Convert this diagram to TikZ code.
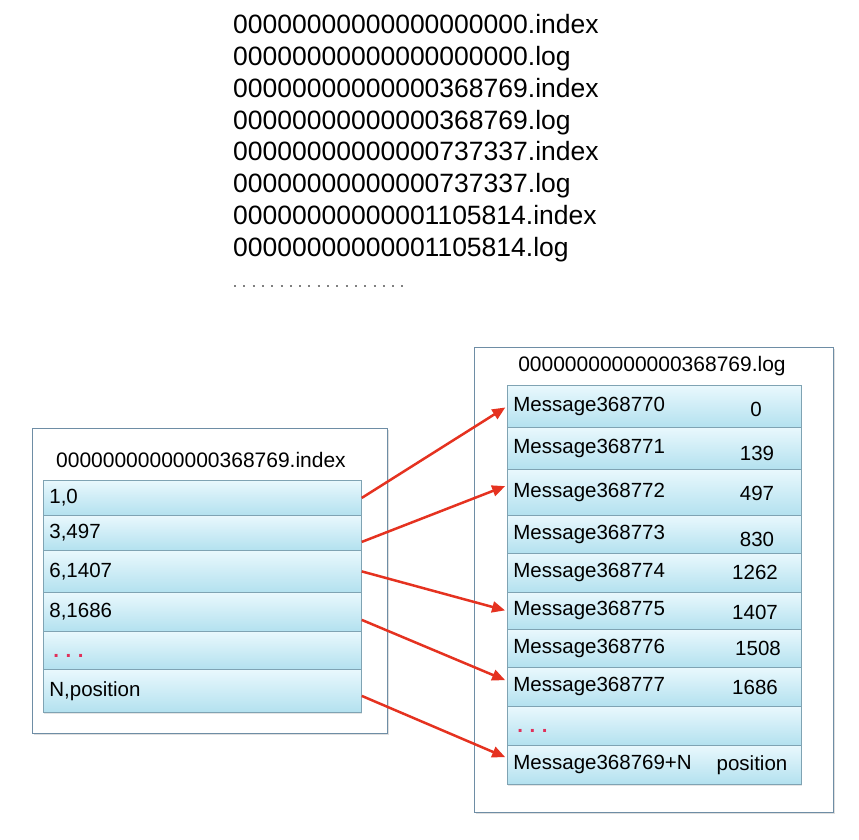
\documentclass[tikz,border=0pt]{standalone}
\usepackage{fontspec}
\setmainfont{Liberation Sans}
\usetikzlibrary{arrows.meta,shadows}

\definecolor{rowtop}{HTML}{E9F8FD}
\definecolor{rowbot}{HTML}{B3E1EF}
\definecolor{rowline}{HTML}{7FA3B3}
\definecolor{boxline}{HTML}{6E8DA5}
\definecolor{arrowred}{HTML}{E53220}
\definecolor{dotred}{HTML}{E0305A}

\newcommand{\moredots}{\vphantom{Mg}\kern4bp\smash{\raisebox{-2bp}{\textcolor{dotred}{\bfseries .\kern6.5bp.\kern6.5bp.}}}}

\begin{document}
\begin{tikzpicture}[x=1bp, y=-1bp,
	filebox/.style={draw=boxline, line width=1bp, fill=white, anchor=north west, inner sep=0pt,
		drop shadow={shadow xshift=1.5bp, shadow yshift=-1.5bp, opacity=0.25}},
	cell/.style={draw=rowline, line width=0.8bp, top color=rowtop, bottom color=rowbot,
		anchor=north west, inner ysep=0pt, inner xsep=6bp, align=left,
		font=\fontsize{20.5bp}{24bp}\selectfont,
		drop shadow={shadow xshift=1bp, shadow yshift=-2bp, opacity=0.2}},
	idxrow/.style={cell, text width=306bp, minimum width=318bp},
	logrow/.style={cell, text width=282bp, minimum width=294bp},
	offs/.style={inner sep=0pt, font=\fontsize{20.5bp}{24bp}\selectfont},
	title/.style={inner sep=0pt, font=\fontsize{21bp}{24bp}\selectfont},
	fname/.style={anchor=base west, inner sep=0pt, font=\fontsize{26.5bp}{30bp}\selectfont},
	link/.style={draw=arrowred, line width=2.5bp, shorten >=2bp, -{Triangle[length=13bp, width=11bp]}}]

	\useasboundingbox (0,0) rectangle (859,840);

	% segment files
	\node[fname] (f1) at (233,33) {00000000000000000000.index};
	\node[fname] (f2) at (233,65) {00000000000000000000.log};
	\node[fname] (f3) at (233,97) {00000000000000368769.index};
	\node[fname] (f4) at (233,129) {00000000000000368769.log};
	\node[fname] (f5) at (233,160) {00000000000000737337.index};
	\node[fname] (f6) at (233,192) {00000000000000737337.log};
	\node[fname] (f7) at (233,224) {00000000000001105814.index};
	\node[fname] (f8) at (233,256) {00000000000001105814.log};
	\draw[gray, line width=2bp, dash pattern=on 2bp off 7.3bp] (234,286) -- (410,286);

	% index file
	\node[filebox, minimum width=355bp, minimum height=305bp] (idxfile) at (32,428) {};
	\node[title] (idxname) at (201,460) {00000000000000368769.index};
	\node[idxrow, minimum height=35bp] (i1) at (43,480) {1,0};
	\node[idxrow, minimum height=35bp] (i2) at (43,515) {3,497};
	\node[idxrow, minimum height=42bp] (i3) at (43,550) {6,1407};
	\node[idxrow, minimum height=39bp] (i4) at (43,592) {8,1686};
	\node[idxrow, minimum height=38bp] (i5) at (43,631) {\moredots};
	\node[idxrow, minimum height=43bp] (i6) at (43,669) {N,position};

	% log file
	\node[filebox, minimum width=359bp, minimum height=465bp] (logfile) at (474,347) {};
	\node[title] (logname) at (652,366) {00000000000000368769.log};
	\node[logrow, minimum height=42bp] (m0) at (507,385) {Message368770};
	\node[logrow, minimum height=42bp] (m1) at (507,427) {Message368771};
	\node[logrow, minimum height=46bp] (m2) at (507,469) {Message368772};
	\node[logrow, minimum height=38bp] (m3) at (507,515) {Message368773};
	\node[logrow, minimum height=39bp] (m4) at (507,553) {Message368774};
	\node[logrow, minimum height=37bp] (m5) at (507,592) {Message368775};
	\node[logrow, minimum height=38bp] (m6) at (507,629) {Message368776};
	\node[logrow, minimum height=39bp] (m7) at (507,667) {Message368777};
	\node[logrow, minimum height=39bp] (m8) at (507,706) {\moredots};
	\node[logrow, minimum height=39bp] (m9) at (507,745) {Message368769+N};

	\node[offs] (o0) at (756,409) {0};
	\node[offs] (o1) at (757,453) {139};
	\node[offs] (o2) at (757,493) {497};
	\node[offs] (o3) at (757,539) {830};
	\node[offs] (o4) at (755,572) {1262};
	\node[offs] (o5) at (755,612) {1407};
	\node[offs] (o6) at (758,648) {1508};
	\node[offs] (o7) at (755,687) {1686};
	\node[offs] (o9) at (752,765) {position};

	% index entries point into the log
	\draw[link] (i1.east) -- (m0.west);
	\draw[link] ([yshift=-9bp]i2.east) -- ([yshift=7bp]m2.west);
	\draw[link] (i3.east) -- (m5.west);
	\draw[link] ([yshift=-8bp]i4.east) -- ([yshift=6bp]m7.west);
	\draw[link] ([yshift=-5bp]i6.east) -- ([yshift=7bp]m9.west);
\end{tikzpicture}
\end{document}
